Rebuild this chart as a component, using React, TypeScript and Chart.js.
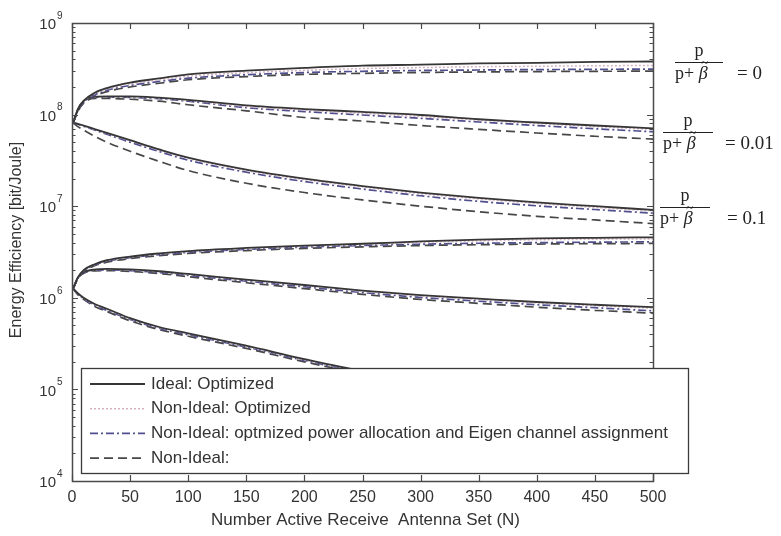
import React, { useEffect, useRef } from "react";
import { Chart, registerables } from "chart.js";

Chart.register(...registerables);

// ---------- DATA ----------
const N = [1, 5, 10, 20, 30, 50, 75, 100, 150, 200, 250, 300, 350, 400, 450, 500];

// upper family (starts ~8e7)
const hiIdeal0 = [8.13e7, 1.12e8, 1.41e8, 1.74e8, 1.95e8, 2.24e8, 2.48e8, 2.75e8, 3.02e8, 3.24e8, 3.43e8, 3.51e8, 3.63e8, 3.67e8, 3.76e8, 3.8e8];
const hiDotted0 = [8.1e7, 1.11e8, 1.39e8, 1.7e8, 1.9e8, 2.16e8, 2.38e8, 2.62e8, 2.86e8, 3.04e8, 3.18e8, 3.26e8, 3.33e8, 3.37e8, 3.41e8, 3.44e8];
const hiDashDot0 = [8.1e7, 1.1e8, 1.36e8, 1.65e8, 1.84e8, 2.08e8, 2.3e8, 2.5e8, 2.72e8, 2.88e8, 2.97e8, 3.03e8, 3.07e8, 3.1e8, 3.12e8, 3.14e8];
const hiDashed0 = [8.1e7, 1.08e8, 1.33e8, 1.6e8, 1.78e8, 2.0e8, 2.2e8, 2.4e8, 2.6e8, 2.75e8, 2.82e8, 2.88e8, 2.92e8, 2.95e8, 2.97e8, 2.98e8];

const hiIdeal001 = [8.13e7, 1.15e8, 1.41e8, 1.57e8, 1.58e8, 1.58e8, 1.53e8, 1.45e8, 1.26e8, 1.15e8, 1.07e8, 9.9e7, 8.9e7, 8.2e7, 7.6e7, 7.08e7];
const hiDotted001 = [8.1e7, 1.15e8, 1.4e8, 1.56e8, 1.57e8, 1.56e8, 1.51e8, 1.43e8, 1.22e8, 1.12e8, 1.03e8, 9.5e7, 8.7e7, 8.0e7, 7.4e7, 6.9e7];
const hiDashDot001 = [8.1e7, 1.14e8, 1.39e8, 1.54e8, 1.55e8, 1.54e8, 1.49e8, 1.4e8, 1.19e8, 1.08e8, 9.9e7, 9.1e7, 8.3e7, 7.6e7, 7.0e7, 6.5e7];
const hiDashed001 = [8.1e7, 1.12e8, 1.35e8, 1.5e8, 1.5e8, 1.47e8, 1.4e8, 1.28e8, 1.1e8, 9.3e7, 8.5e7, 7.6e7, 6.9e7, 6.3e7, 5.8e7, 5.4e7];

const hiIdeal01 = [8.13e7, 7.94e7, 7.59e7, 6.92e7, 6.31e7, 5.25e7, 4.17e7, 3.39e7, 2.51e7, 2.0e7, 1.66e7, 1.41e7, 1.23e7, 1.1e7, 1.0e7, 9.1e6];
const hiDotted01 = [8.1e7, 7.9e7, 7.55e7, 6.85e7, 6.25e7, 5.18e7, 4.1e7, 3.32e7, 2.45e7, 1.95e7, 1.62e7, 1.37e7, 1.2e7, 1.07e7, 9.7e6, 8.9e6];
const hiDashDot01 = [8.1e7, 7.85e7, 7.45e7, 6.75e7, 6.1e7, 5.0e7, 3.95e7, 3.18e7, 2.35e7, 1.86e7, 1.54e7, 1.3e7, 1.13e7, 1.01e7, 9.2e6, 8.4e6];
const hiDashed01 = [8.1e7, 7.4e7, 6.76e7, 5.75e7, 5.0e7, 3.98e7, 3.09e7, 2.45e7, 1.78e7, 1.41e7, 1.17e7, 1.0e7, 8.7e6, 7.76e6, 7.08e6, 6.46e6];

// lower family (starts ~1.26e6)
const loIdeal0 = [1.26e6, 1.66e6, 2.0e6, 2.34e6, 2.57e6, 2.82e6, 3.05e6, 3.24e6, 3.5e6, 3.72e6, 3.89e6, 4.12e6, 4.32e6, 4.45e6, 4.52e6, 4.57e6];
const loDotted0 = [1.26e6, 1.65e6, 1.98e6, 2.32e6, 2.54e6, 2.79e6, 3.01e6, 3.2e6, 3.45e6, 3.66e6, 3.82e6, 4.02e6, 4.18e6, 4.3e6, 4.36e6, 4.4e6];
const loDashDot0 = [1.26e6, 1.64e6, 1.96e6, 2.3e6, 2.5e6, 2.75e6, 2.96e6, 3.13e6, 3.38e6, 3.58e6, 3.73e6, 3.85e6, 3.94e6, 4.0e6, 4.05e6, 4.08e6];
const loDashed0 = [1.26e6, 1.62e6, 1.93e6, 2.25e6, 2.45e6, 2.68e6, 2.88e6, 3.05e6, 3.28e6, 3.46e6, 3.6e6, 3.72e6, 3.8e6, 3.86e6, 3.9e6, 3.92e6];

const loIdeal001 = [1.26e6, 1.66e6, 1.9e6, 2.04e6, 2.07e6, 2.04e6, 1.95e6, 1.82e6, 1.58e6, 1.38e6, 1.2e6, 1.07e6, 9.8e5, 9.0e5, 8.4e5, 7.9e5];
const loDotted001 = [1.26e6, 1.65e6, 1.89e6, 2.02e6, 2.05e6, 2.02e6, 1.93e6, 1.8e6, 1.56e6, 1.36e6, 1.18e6, 1.05e6, 9.6e5, 8.8e5, 8.2e5, 7.7e5];
const loDashDot001 = [1.26e6, 1.64e6, 1.87e6, 2.0e6, 2.02e6, 1.98e6, 1.89e6, 1.76e6, 1.52e6, 1.32e6, 1.14e6, 1.01e6, 9.2e5, 8.4e5, 7.8e5, 7.2e5];
const loDashed001 = [1.26e6, 1.62e6, 1.85e6, 1.97e6, 1.98e6, 1.94e6, 1.84e6, 1.7e6, 1.46e6, 1.26e6, 1.09e6, 9.6e5, 8.7e5, 7.9e5, 7.3e5, 6.8e5];

const loIdeal01 = [1.26e6, 1.12e6, 1.0e6, 8.5e5, 7.6e5, 6.0e5, 4.8e5, 4.1e5, 3.0e5, 2.14e5, 1.58e5, 1.26e5, 1.05e5, 8.9e4, 7.8e4, 6.8e4];
const loDotted01 = [1.26e6, 1.11e6, 9.9e5, 8.4e5, 7.5e5, 5.9e5, 4.75e5, 4.05e5, 2.95e5, 2.1e5, 1.56e5, 1.24e5, 1.03e5, 8.8e4, 7.7e4, 6.7e4];
const loDashDot01 = [1.26e6, 1.1e6, 9.8e5, 8.2e5, 7.3e5, 5.8e5, 4.65e5, 3.95e5, 2.9e5, 2.07e5, 1.53e5, 1.22e5, 1.01e5, 8.6e4, 7.5e4, 6.5e4];
const loDashed01 = [1.26e6, 1.08e6, 9.6e5, 8.0e5, 7.1e5, 5.6e5, 4.5e5, 3.8e5, 2.8e5, 2.0e5, 1.48e5, 1.18e5, 9.8e4, 8.3e4, 7.2e4, 6.3e4];

const xTicks = [0, 50, 100, 150, 200, 250, 300, 350, 400, 450, 500];
const yDecades = [4, 5, 6, 7, 8, 9];
const legendLabels = [
  "Ideal: Optimized",
  "Non-Ideal: Optimized",
  "Non-Ideal: optmized power allocation and Eigen channel assignment",
  "Non-Ideal:",
];
const ratioLabels = ["0", "0.01", "0.1"];
const xTitle = "Number Active Receive  Antenna Set (N)";
const yTitle = "Energy Efficiency [bit/Joule]";

// ---------- STYLES ----------
const styles = [
  { color: "#363636", dash: [] as number[], width: 1.8 },
  { color: "#d7b3c2", dash: [2, 2], width: 1.5 },
  { color: "#50508e", dash: [8, 3, 2, 3], width: 1.7 },
  { color: "#474747", dash: [9, 5], width: 1.7 },
];

const groups = [
  [hiIdeal0, hiDotted0, hiDashDot0, hiDashed0],
  [hiIdeal001, hiDotted001, hiDashDot001, hiDashed001],
  [hiIdeal01, hiDotted01, hiDashDot01, hiDashed01],
  [loIdeal0, loDotted0, loDashDot0, loDashed0],
  [loIdeal001, loDotted001, loDashDot001, loDashed001],
  [loIdeal01, loDotted01, loDashDot01, loDashed01],
];

const SANS = "'Liberation Sans', Arial, sans-serif";
const SERIF = "'Liberation Serif', 'Times New Roman', serif";

const overlay = {
  id: "overlay",
  afterDatasetsDraw(chart: any) {
    const { ctx, chartArea: a, scales } = chart;
    const x = scales.x;
    const y = scales.y;
    ctx.save();
    ctx.strokeStyle = "#4a4a4a";
    ctx.lineWidth = 1.2;
    ctx.setLineDash([]);
    // x ticks
    for (const t of xTicks) {
      const px = Math.round(x.getPixelForValue(t)) + 0.5;
      ctx.beginPath();
      ctx.moveTo(px, a.bottom);
      ctx.lineTo(px, a.bottom - 6);
      ctx.moveTo(px, a.top);
      ctx.lineTo(px, a.top + 6);
      ctx.stroke();
    }
    // y ticks (major + minor)
    for (const e of yDecades) {
      for (let m = 1; m <= 9; m++) {
        if (e === 9 && m > 1) break;
        const py = Math.round(y.getPixelForValue(m * Math.pow(10, e))) + 0.5;
        const len = m === 1 ? 6 : 3.5;
        ctx.beginPath();
        ctx.moveTo(a.left, py);
        ctx.lineTo(a.left + len, py);
        ctx.moveTo(a.right, py);
        ctx.lineTo(a.right - len, py);
        ctx.stroke();
      }
    }
    // box
    ctx.lineWidth = 1.5;
    ctx.strokeRect(Math.round(a.left) + 0.5, Math.round(a.top) + 0.5, Math.round(a.width), Math.round(a.height));

    // tick labels
    ctx.fillStyle = "#333";
    ctx.font = `16px ${SANS}`;
    ctx.textAlign = "center";
    ctx.textBaseline = "middle";
    for (const t of xTicks) {
      ctx.fillText(String(t), x.getPixelForValue(t), a.bottom + 17);
    }
    for (const e of yDecades) {
      const py = y.getPixelForValue(Math.pow(10, e));
      ctx.font = `15px ${SANS}`;
      ctx.textAlign = "right";
      ctx.fillText("10", a.left - 16, py + 2);
      ctx.font = `10px ${SANS}`;
      ctx.textAlign = "left";
      ctx.fillText(String(e), a.left - 15, py - 7);
    }
    // titles
    ctx.font = `17px ${SANS}`;
    ctx.textAlign = "center";
    ctx.fillText(xTitle, (a.left + a.right) / 2 + 3, a.bottom + 39);
    ctx.save();
    ctx.font = `16px ${SANS}`;
    ctx.translate(17, 240);
    ctx.rotate(-Math.PI / 2);
    ctx.fillText(yTitle, 0, 0);
    ctx.restore();

    // legend
    const lx = 81, ly = 368, lw = 607, lh = 105;
    ctx.fillStyle = "#fff";
    ctx.fillRect(lx, ly, lw, lh);
    ctx.strokeStyle = "#3a3a3a";
    ctx.lineWidth = 1.3;
    ctx.strokeRect(lx + 0.5, ly + 0.5, lw, lh);
    legendLabels.forEach((lab, i) => {
      const yy = ly + 16 + i * 24.7;
      const s = styles[i];
      ctx.strokeStyle = s.color;
      ctx.lineWidth = s.width;
      ctx.setLineDash(s.dash);
      ctx.beginPath();
      ctx.moveTo(lx + 9, yy);
      ctx.lineTo(lx + 64, yy);
      ctx.stroke();
      ctx.setLineDash([]);
      ctx.fillStyle = "#333";
      ctx.font = `17px ${SANS}`;
      ctx.textAlign = "left";
      ctx.textBaseline = "middle";
      ctx.fillText(lab, lx + 70, yy);
    });

    // ratio annotations
    const ann = [
      { x0: 675, x1: 723, yl: 62, eqx: 737 },
      { x0: 663, x1: 713, yl: 132, eqx: 725 },
      { x0: 660, x1: 710, yl: 207, eqx: 727 },
    ];
    ann.forEach((p, i) => {
      ctx.fillStyle = "#222";
      ctx.strokeStyle = "#222";
      ctx.lineWidth = 1.2;
      ctx.beginPath();
      ctx.moveTo(p.x0, p.yl + 0.5);
      ctx.lineTo(p.x1, p.yl + 0.5);
      ctx.stroke();
      ctx.font = `18px ${SERIF}`;
      ctx.textAlign = "center";
      ctx.textBaseline = "middle";
      ctx.fillText("p", (p.x0 + p.x1) / 2, p.yl - 11);
      ctx.textAlign = "left";
      ctx.fillText("p+ ", p.x0, p.yl + 12);
      const w = ctx.measureText("p+ ").width;
      ctx.font = `italic 18px ${SERIF}`;
      ctx.fillText("\u03B2", p.x0 + w, p.yl + 12);
      const bw = ctx.measureText("\u03B2").width;
      ctx.font = `13px ${SERIF}`;
      ctx.fillText("~", p.x0 + w + bw / 2 - 2, p.yl + 2);
      ctx.font = `19px ${SERIF}`;
      ctx.fillText("= " + ratioLabels[i], p.eqx, p.yl + 12);
    });
    ctx.restore();
  },
};

export default function App() {
  const ref = useRef<HTMLCanvasElement | null>(null);
  useEffect(() => {
    if (!ref.current) return;
    const datasets: any[] = [];
    groups.forEach((g) => {
      g.forEach((arr, si) => {
        const s = styles[si];
        datasets.push({
          label: legendLabels[si],
          data: N.map((n, k) => ({ x: n, y: arr[k] })),
          borderColor: s.color,
          borderWidth: s.width,
          borderDash: s.dash,
          pointRadius: 0,
          fill: false,
          cubicInterpolationMode: "monotone",
        });
      });
    });
    const chart = new Chart(ref.current, {
      type: "line",
      data: { datasets },
      options: {
        animation: false,
        responsive: false,
        devicePixelRatio: 1,
        layout: { padding: { left: 72, top: 23, right: 128, bottom: 55 } },
        plugins: { legend: { display: false }, tooltip: { enabled: false } },
        scales: {
          x: { type: "linear", min: 0, max: 500, display: false },
          y: { type: "logarithmic", min: 1e4, max: 1e9, display: false },
        },
      },
      plugins: [overlay],
    });
    return () => chart.destroy();
  }, []);
  return (
    <div style={{ position: "absolute", left: 0, top: 0, width: 781, height: 536, background: "#fff" }}>
      <canvas ref={ref} width={781} height={536} />
    </div>
  );
}
